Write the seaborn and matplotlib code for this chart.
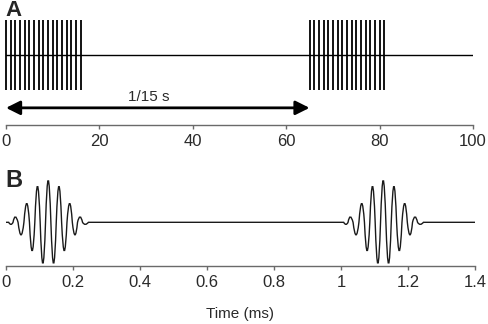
import matplotlib
matplotlib.use("Agg")
import matplotlib.pyplot as plt
from matplotlib.path import Path
from matplotlib.patches import PathPatch
import numpy as np
import seaborn as sns

# --- data ---
# panel A: click times (ms) in the two bursts
pulse_times_ms = [0, 1, 2, 3, 4, 5, 6, 7, 8, 9, 10, 11, 12, 13, 14, 15, 16,
                  65, 66, 67, 68, 69, 70, 71, 72, 73, 74, 75, 76, 77, 78, 79, 80, 81]
trace_span_a = [0, 100]          # ms, flat baseline
arrow_span_ms = [0, 65]          # double arrow
arrow_label = "1/15 s"
ticks_a = [0, 20, 40, 60, 80, 100]

# panel B: one click waveform, peaks/troughs (ms relative to onset, relative amplitude)
click_start, click_end = 0.008, 0.246
peak_t = [0.015, 0.027, 0.045, 0.062, 0.078, 0.094, 0.110, 0.126,
          0.142, 0.158, 0.174, 0.190, 0.206, 0.221, 0.236]
peak_amp = [-0.05, 0.13, -0.30, 0.45, -0.68, 0.86, -0.98, 1.0,
            -0.98, 0.86, -0.68, 0.45, -0.30, 0.13, -0.05]
click_onsets_ms = [0.0, 1.0]
trace_end_b = 1.4
ticks_b = [0, 0.2, 0.4, 0.6, 0.8, 1, 1.2, 1.4]
tick_labels_b = ["0", "0.2", "0.4", "0.6", "0.8", "1", "1.2", "1.4"]

sns.set_theme(style="ticks")
plt.rcParams['font.family'] = ['Liberation Sans', 'DejaVu Sans']

spine_col = '#6a6a6a'
text_col = '#2a2a2a'

fig = plt.figure(figsize=(4.88, 3.24), dpi=100)
axA = fig.add_axes([6/488, 1-125/324, 467/488, 115/324])
axB = fig.add_axes([6/488, 1-266/324, 469/488, 96/324])

# panel A
axA.vlines(pulse_times_ms, -1, 1, color='black', lw=1.3, clip_on=False)
sns.lineplot(x=trace_span_a, y=[0, 0], color='black', lw=1.0, ax=axA)
axA.annotate('', xy=(arrow_span_ms[1], -1.51), xytext=(arrow_span_ms[0], -1.51),
             arrowprops=dict(arrowstyle='<|-|>,head_length=0.7,head_width=0.35',
                             color='black', lw=2.0, shrinkA=0, shrinkB=0))
axA.text(30.6, -1.2, arrow_label, ha='center', va='center', fontsize=11, color=text_col)
axA.set_xlim(0, 100)
axA.set_ylim(-2.0, 1.286)
axA.set_xticks(ticks_a)
axA.set_xticklabels([str(t) for t in ticks_a])

# panel B: smooth trace, each half-cycle a quadratic curve through its peak
verts, codes = [(0.0, 0.0)], [Path.MOVETO]
for on in click_onsets_ms:
    zeros = ([click_start] + [(a + b) / 2 for a, b in zip(peak_t[:-1], peak_t[1:])]
             + [click_end])
    verts.append((on + zeros[0], 0.0)); codes.append(Path.LINETO)
    for i, (pt, pa) in enumerate(zip(peak_t, peak_amp)):
        verts += [(on + pt, 2 * pa), (on + zeros[i + 1], 0.0)]
        codes += [Path.CURVE3, Path.CURVE3]
verts.append((trace_end_b, 0.0)); codes.append(Path.LINETO)
axB.add_patch(PathPatch(Path(verts, codes), fill=False, edgecolor='#1a1a1a', lw=1.0))
sns.lineplot(x=[0, trace_end_b], y=[0, 0], color='#1a1a1a', lw=0.0, ax=axB)
axB.set_xlim(0, 1.4)
axB.set_ylim(-1.04, 1.245)
axB.set_xticks(ticks_b)
axB.set_xticklabels(tick_labels_b)
axB.set_ylabel('')

for ax in (axA, axB):
    sns.despine(ax=ax, left=True)
    ax.set_yticks([])
    ax.set_facecolor('none')
    ax.spines['bottom'].set_color(spine_col)
    ax.spines['bottom'].set_linewidth(1.0)
    ax.tick_params(axis='x', direction='out', length=3, width=1.0, color=spine_col,
                   labelsize=12, labelcolor=text_col, pad=3.5)
axA.set_xlabel('')
axB.set_xlabel('Time (ms)', fontsize=11, color=text_col, labelpad=12)

fig.text(5/488, 1-16/324, 'A', fontsize=16, fontweight='bold', va='baseline', ha='left')
fig.text(5/488, 1-187/324, 'B', fontsize=17, fontweight='bold', va='baseline', ha='left')

fig.savefig('out.png', dpi=100)
